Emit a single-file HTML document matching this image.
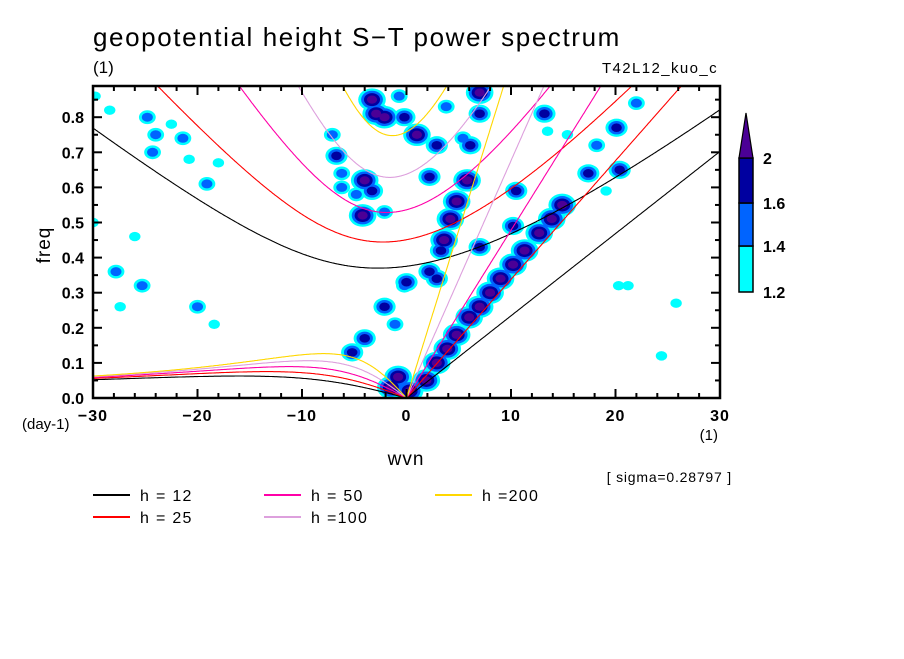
<!DOCTYPE html>
<html><head><meta charset="utf-8">
<style>
body{margin:0;background:#fff;width:904px;height:654px;overflow:hidden;font-family:"Liberation Sans",sans-serif;}
svg text{font-family:"Liberation Sans",sans-serif;fill:#000;}
</style></head>
<body>
<svg id="chart" width="904" height="654" viewBox="0 0 904 654" xmlns="http://www.w3.org/2000/svg">
<defs><clipPath id="plotclip"><rect x="93" y="86" width="627" height="312"/></clipPath></defs>
<text x="93" y="46" font-size="26" letter-spacing="1.6">geopotential height S−T power spectrum</text>
<text x="93" y="73" font-size="17">(1)</text>
<text x="718" y="73" font-size="15" letter-spacing="1.4" text-anchor="end">T42L12_kuo_c</text>
<g id="heat" clip-path="url(#plotclip)"></g>
<g id="curves" clip-path="url(#plotclip)"></g>
<g id="axes"></g>
<text x="0" y="0" font-size="19" letter-spacing="1" transform="translate(50,245) rotate(-90)" text-anchor="middle">freq</text>
<text x="22" y="429" font-size="15">(day-1)</text>
<text x="406" y="465" font-size="19" letter-spacing="1" text-anchor="middle">wvn</text>
<text x="718" y="440" font-size="15" text-anchor="end">(1)</text>
<text x="732" y="482" font-size="14" letter-spacing="0.8" text-anchor="end">[ sigma=0.28797 ]</text>
<g id="legend"></g>
<g id="colorbar"></g>
</svg>
<script>
// ---- data ----
const depths = [12, 25, 50, 100, 200];
const depthColors = ["#000000", "#ff0000", "#ff00a8", "#dda0dd", "#ffd700"];
const legendLabels = ["h = 12", "h = 25", "h = 50", "h =100", "h =200"];
const xTicks = [-30, -20, -10, 0, 10, 20, 30];
const yTicks = [0.0, 0.1, 0.2, 0.3, 0.4, 0.5, 0.6, 0.7, 0.8];
const cbLevels = [1.2, 1.4, 1.6, 2];
const cbColors = ["#00ffff", "#0064ff", "#0000a0", "#4b0096"];
// blobs of enhanced power: wavenumber, frequency, level (1..4)
const blobK = [-29.8,-28.4,-24.8,-24.3,-21.4,-20.8,-19.1,-18,-30,-27.8,-25.3,-27.4,-20,-18.4,-26,
 -7.1,-6.7,-6.2,-4,-6.2,-3.3,-4.8,-3.3,-2.9,-2.1,-0.2,-0.7,-0.2,-2.1,-1.1,-4,-5.2,
 -1.5,0.3,-0.8,1,2.9,3.8,7,7,6.1,5.4,2.2,5.8,4.8,4.2,3.6,3.3,2.2,2.9,0,-4.2,-2.1,
 10.5,13.2,13.5,10.2,7,14.9,13.9,12.7,11.3,10.2,9,8,7,6,4.8,3.9,2.9,1.9,
 20.1,18.2,20.4,17.4,22,19.1,15.4,21.2,25.8,24.4,20.3,-24,-22.5];
const blobF = [0.86,0.82,0.80,0.70,0.74,0.68,0.61,0.67,0.50,0.36,0.32,0.26,0.26,0.21,0.46,
 0.75,0.69,0.64,0.62,0.60,0.59,0.58,0.85,0.81,0.80,0.80,0.86,0.32,0.26,0.21,0.17,0.13,
 0.03,0.02,0.06,0.75,0.72,0.83,0.87,0.81,0.72,0.74,0.63,0.62,0.56,0.51,0.45,0.42,0.36,0.34,0.33,0.52,0.53,
 0.59,0.81,0.76,0.49,0.43,0.55,0.51,0.47,0.42,0.38,0.34,0.30,0.26,0.23,0.18,0.14,0.10,0.05,
 0.77,0.72,0.65,0.64,0.84,0.59,0.75,0.32,0.27,0.12,0.32,0.75,0.78];
const blobL = [1,1,2,2,2,1,2,1,1,2,2,1,2,1,1,
 2,3,2,4,2,3,2,4,4,4,3,2,2,3,2,3,3,
 4,4,4,4,3,2,4,3,3,2,3,4,4,4,4,3,3,3,3,4,2,
 3,3,1,3,3,4,4,4,4,4,4,4,4,4,4,4,4,4,
 3,2,3,3,2,1,1,1,1,1,1,2,1];

// ---- scales ----
const X0=93, X1=720, Y0=398, YT=86;
function xs(k){return X0+(k+30)/60*(X1-X0);}
function ys(f){return Y0-f*351;}
const NS="http://www.w3.org/2000/svg";
function mk(tag, attrs, parent){const e=document.createElementNS(NS,tag);for(const a in attrs)e.setAttribute(a,attrs[a]);parent.appendChild(e);return e;}

// ---- heat blobs ----
const heat=document.getElementById('heat');
for(let lay=1;lay<=4;lay++){
  for(let i=0;i<blobK.length;i++){
    if(blobL[i]<lay) continue;
    const L=blobL[i];
    const rx=(3+2.7*L)-(lay-1)*2.9, ry=(2.5+2.2*L)-(lay-1)*2.4;
    if(rx<=1||ry<=1) continue;
    const e=mk('ellipse',{cx:xs(blobK[i]),cy:ys(blobF[i]),rx:rx,ry:ry,fill:cbColors[lay-1]},heat);
    
    
  }
}

// ---- dispersion curves (equatorial shallow water, n=1 and Kelvin) ----
const a=6.371e6, beta=2*7.292e-5/a, g=9.81, toCpd=86400/(2*Math.PI);
const curves=document.getElementById('curves');
depths.forEach((h,j)=>{
  const c=Math.sqrt(g*h);
  let ig=[], ros=[], kel=[];
  for(let s=-30;s<=30.001;s+=0.1){
    const kk=s/a;
    let w=Math.sqrt(kk*kk*c*c+3*beta*c)+Math.abs(kk)*c+1e-5;
    for(let it=0;it<60;it++){
      const F=w*w*w-(kk*kk*c*c+3*beta*c)*w-beta*kk*c*c;
      const d=3*w*w-(kk*kk*c*c+3*beta*c);
      w-=F/d;
    }
    ig.push([xs(s),ys(w*toCpd)]);
    if(s<=0.001){const r=-beta*kk/(kk*kk+3*beta/c);ros.push([xs(s),ys(r*toCpd)]);}
    if(s>=-0.001){kel.push([xs(s),ys(kk*c*toCpd)]);}
  }
  [[ig,'ig-curve'],[ros,'rossby-curve'],[kel,'kelvin-line']].forEach(([pts,nm])=>{
    const p=mk('polyline',{points:pts.map(q=>q[0].toFixed(1)+','+q[1].toFixed(1)).join(' '),fill:'none',stroke:depthColors[j],'stroke-width':1.1},curves);
    
    
  });
});

// ---- axes ----
const ax=document.getElementById('axes');
mk('rect',{x:X0,y:YT,width:X1-X0,height:Y0-YT,fill:'none',stroke:'#000','stroke-width':2.5},ax);
for(let k=-30;k<=30;k+=2){
  const maj=(k%10===0);const L=maj?9:5;
  mk('line',{x1:xs(k),x2:xs(k),y1:Y0,y2:Y0-L,stroke:'#000','stroke-width':2},ax);
  mk('line',{x1:xs(k),x2:xs(k),y1:YT,y2:YT+L,stroke:'#000','stroke-width':2},ax);
}
for(let f=0.05;f<0.886;f+=0.05){
  const maj=Math.abs(f*10-Math.round(f*10))<0.01;const L=maj?9:5;
  mk('line',{x1:X0,x2:X0+L,y1:ys(f),y2:ys(f),stroke:'#000','stroke-width':2},ax);
  mk('line',{x1:X1,x2:X1-L,y1:ys(f),y2:ys(f),stroke:'#000','stroke-width':2},ax);
}
xTicks.forEach(k=>{
  const t=mk('text',{x:xs(k),y:421,'font-size':16,'text-anchor':'middle','font-weight':'bold','letter-spacing':1},ax);
  t.textContent=(k<0?'−':'')+Math.abs(k);
  
  
});
yTicks.forEach(f=>{
  const t=mk('text',{x:84,y:ys(f)+6,'font-size':16,'text-anchor':'end','font-weight':'bold'},ax);
  t.textContent=f.toFixed(1);
  
  
});

// ---- legend ----
const lg=document.getElementById('legend');
const lx=[93,93,264,264,435], ly=[495,517,495,517,495];
const order=[0,1,2,3,4];
order.forEach(j=>{
  const l=mk('line',{x1:lx[j],x2:lx[j]+37,y1:ly[j],y2:ly[j],stroke:depthColors[j],'stroke-width':2},lg);
  
  
  const t=mk('text',{x:lx[j]+47,y:ly[j]+6,'font-size':16,'letter-spacing':1.3},lg);
  t.textContent=legendLabels[j];
  
  
});

// ---- colorbar ----
const cb=document.getElementById('colorbar');
const cbY=[292,246,203,158];
for(let i=0;i<3;i++){
  const r=mk('rect',{x:739,y:cbY[i+1],width:14,height:cbY[i]-cbY[i+1],fill:cbColors[i],stroke:'#000','stroke-width':1.5},cb);
  
  
}
const tri=mk('polygon',{points:'739,158 753,158 746,113',fill:cbColors[3],stroke:'#000','stroke-width':1.2},cb);


cbLevels.forEach((v,i)=>{
  const yy=[292,246,203,158][i];
  const t=mk('text',{x:763,y:yy+6,'font-size':16,'font-weight':'bold'},cb);
  t.textContent=String(v);
  
  
});
</script>
</body></html>
